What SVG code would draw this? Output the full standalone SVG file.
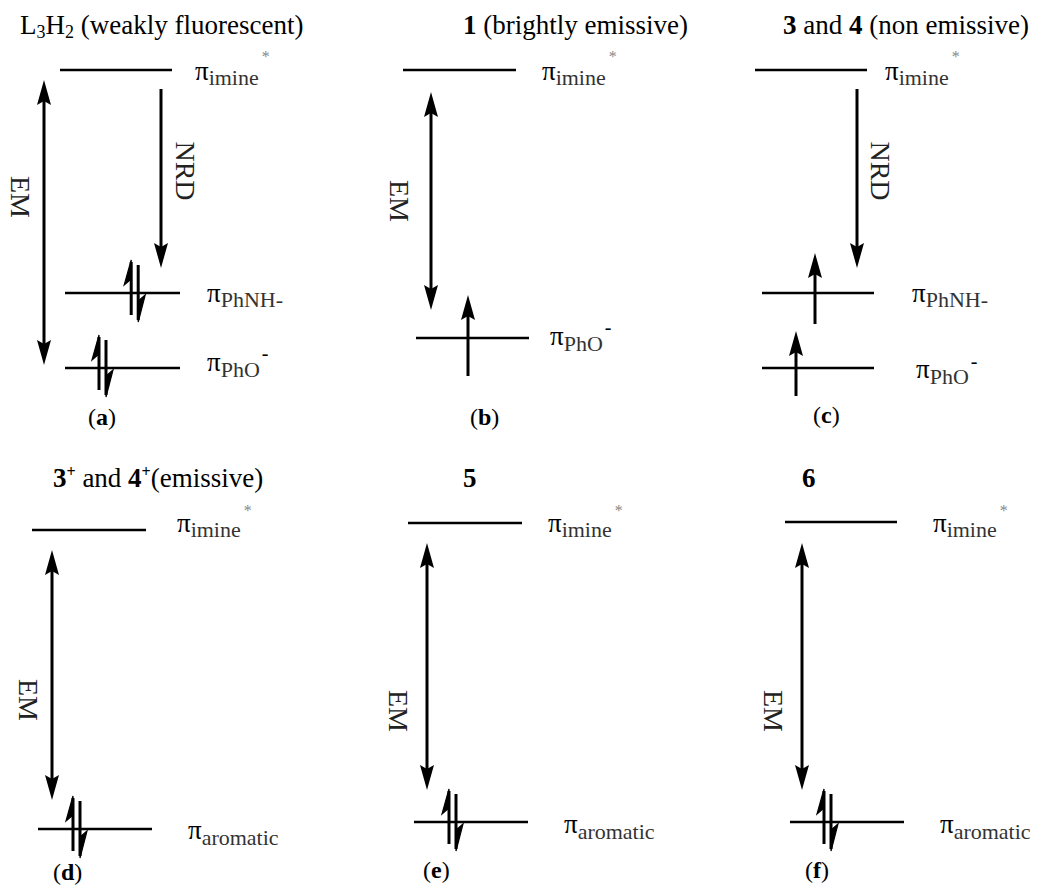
<svg xmlns="http://www.w3.org/2000/svg" xmlns:xlink="http://www.w3.org/1999/xlink" width="1039" height="888" viewBox="0 0 1039 888">
<style>
text{font-family:"Liberation Serif","Times New Roman",serif;fill:#000}
.title{font-size:27px}
.b{font-weight:bold}
.pi{font-size:27px}
.sub{font-size:22px;fill:#333}
.star{font-size:16px;fill:#888}
.sup{font-size:20px;fill:#000}
.rot{font-size:28px;fill:#222}
.pl{font-size:24px}
.lvl{stroke:#000;stroke-width:2.5;fill:none}
.arr{stroke:#000;stroke-width:3;fill:none}
.e{stroke:#000;stroke-width:3;fill:none}
</style>
<defs>
<marker id="ah" viewBox="-26 -8 28 16" refX="-10" refY="0" markerWidth="28" markerHeight="16" markerUnits="userSpaceOnUse" orient="auto-start-reverse">
<path d="M0,0 L-25,-7 L-21,0 L-25,7 Z" fill="#000"/>
</marker>
<g id="pair">
<line class="e" x1="-3.5" y1="22" x2="-3.5" y2="-31"/>
<path d="M-3.5,-33 L-10.5,-8 L-3.5,-14 Z" fill="#000" stroke="#000" stroke-width="1.2"/>
<line class="e" x1="3.5" y1="-28" x2="3.5" y2="27"/>
<path d="M3.5,29 L10.5,2 L3.5,8 Z" fill="#000" stroke="#000" stroke-width="1.2"/>
</g>
</defs>
<rect width="1039" height="888" fill="#fff"/>

<!-- Panel a -->
<g id="panel-a">
<text class="title" x="20" y="34">L<tspan font-size="18" dy="4">3</tspan><tspan dy="-4">H</tspan><tspan font-size="18" dy="4">2</tspan><tspan dy="-4"> (weakly fluorescent)</tspan></text>
<line class="lvl" x1="60" y1="70" x2="172" y2="70"/>
<text class="pi" x="195" y="80">π<tspan class="sub" dy="5">imine</tspan><tspan class="star" dx="3" dy="-23">*</tspan></text>
<line class="lvl" x1="65" y1="293" x2="180" y2="293"/>
<text class="pi" x="207" y="302">π<tspan class="sub" dy="5">PhNH-</tspan></text>
<line class="lvl" x1="65" y1="368" x2="180" y2="368"/>
<text class="pi" x="207" y="371">π<tspan class="sub" dy="6">PhO</tspan><tspan class="sup" dx="2" dy="-17">-</tspan></text>
<use xlink:href="#pair" x="134.7" y="293"/>
<use xlink:href="#pair" x="102.5" y="368"/>
<text class="rot" transform="translate(11,197) rotate(90)" text-anchor="middle">EM</text>
<text class="rot" transform="translate(176,171) rotate(90)" text-anchor="middle">NRD</text>
<text class="pl" x="88" y="425">(<tspan class="b">a</tspan>)</text>
</g>

<!-- Panel b -->
<g id="panel-b">
<text class="title" x="463" y="34"><tspan class="b">1</tspan> (brightly emissive)</text>
<line class="lvl" x1="403" y1="70" x2="516" y2="70"/>
<text class="pi" x="542" y="80">π<tspan class="sub" dy="5">imine</tspan><tspan class="star" dx="3" dy="-23">*</tspan></text>
<line class="lvl" x1="416" y1="338" x2="529" y2="338"/>
<text class="pi" x="550" y="345">π<tspan class="sub" dy="6">PhO</tspan><tspan class="sup" dx="2" dy="-17">-</tspan></text>
<text class="rot" transform="translate(390,201) rotate(90)" text-anchor="middle">EM</text>
<text class="pl" x="470" y="425">(<tspan class="b">b</tspan>)</text>
</g>

<!-- Panel c -->
<g id="panel-c">
<text class="title" x="783" y="34"><tspan class="b">3</tspan> and <tspan class="b">4</tspan> (non emissive)</text>
<line class="lvl" x1="755" y1="70" x2="867" y2="70"/>
<text class="pi" x="885" y="80">π<tspan class="sub" dy="5">imine</tspan><tspan class="star" dx="3" dy="-23">*</tspan></text>
<line class="lvl" x1="762" y1="293" x2="874" y2="293"/>
<text class="pi" x="912" y="302">π<tspan class="sub" dy="5">PhNH-</tspan></text>
<line class="lvl" x1="762" y1="368" x2="874" y2="368"/>
<text class="pi" x="916" y="378">π<tspan class="sub" dy="6">PhO</tspan><tspan class="sup" dx="2" dy="-16">-</tspan></text>
<text class="rot" transform="translate(871,171) rotate(90)" text-anchor="middle">NRD</text>
<text class="pl" x="813" y="423">(<tspan class="b">c</tspan>)</text>
</g>

<!-- Panel d -->
<g id="panel-d">
<text class="title" x="53" y="487"><tspan class="b">3</tspan><tspan class="b" font-size="16" dy="-10">+</tspan><tspan dy="10"> and </tspan><tspan class="b">4</tspan><tspan class="b" font-size="16" dy="-10">+</tspan><tspan dy="10">(emissive)</tspan></text>
<line class="lvl" x1="32" y1="530" x2="146" y2="530"/>
<text class="pi" x="177" y="532">π<tspan class="sub" dy="5">imine</tspan><tspan class="star" dx="3" dy="-21">*</tspan></text>
<line class="lvl" x1="38" y1="829" x2="152" y2="829"/>
<text class="pi" x="188" y="839">π<tspan class="sub" dy="6">aromatic</tspan></text>
<use xlink:href="#pair" x="76.5" y="829"/>
<text class="rot" transform="translate(19,700) rotate(90)" text-anchor="middle">EM</text>
<text class="pl" x="53" y="880">(<tspan class="b">d</tspan>)</text>
</g>

<!-- Panel e -->
<g id="panel-e">
<text class="title b" x="463" y="487">5</text>
<line class="lvl" x1="408" y1="523" x2="522" y2="523"/>
<text class="pi" x="548" y="532">π<tspan class="sub" dy="5">imine</tspan><tspan class="star" dx="3" dy="-21">*</tspan></text>
<line class="lvl" x1="414" y1="822" x2="528" y2="822"/>
<text class="pi" x="564" y="833">π<tspan class="sub" dy="6">aromatic</tspan></text>
<use xlink:href="#pair" x="452.5" y="822"/>
<text class="rot" transform="translate(389,711) rotate(90)" text-anchor="middle">EM</text>
<text class="pl" x="423" y="878">(<tspan class="b">e</tspan>)</text>
</g>

<!-- Panel f -->
<g id="panel-f">
<text class="title b" x="802" y="487">6</text>
<line class="lvl" x1="785" y1="522" x2="897" y2="522"/>
<text class="pi" x="933" y="532">π<tspan class="sub" dy="5">imine</tspan><tspan class="star" dx="3" dy="-21">*</tspan></text>
<line class="lvl" x1="790" y1="822" x2="904" y2="822"/>
<text class="pi" x="940" y="833">π<tspan class="sub" dy="6">aromatic</tspan></text>
<use xlink:href="#pair" x="827.5" y="822"/>
<text class="rot" transform="translate(764,711) rotate(90)" text-anchor="middle">EM</text>
<text class="pl" x="805" y="878">(<tspan class="b">f</tspan>)</text>
</g>

<!-- Connectors -->
<g id="connectors">
<line class="arr" x1="44" y1="90" x2="44" y2="355" marker-start="url(#ah)" marker-end="url(#ah)"/>
<line class="arr" x1="161" y1="89" x2="161" y2="258" marker-end="url(#ah)"/>
<line class="arr" x1="431" y1="102" x2="431" y2="300" marker-start="url(#ah)" marker-end="url(#ah)"/>
<line class="arr" x1="468" y1="376" x2="468" y2="305" marker-end="url(#ah)"/>
<line class="arr" x1="857" y1="89" x2="857" y2="258" marker-end="url(#ah)"/>
<line class="arr" x1="815" y1="324" x2="815" y2="263" marker-end="url(#ah)"/>
<line class="arr" x1="796" y1="396" x2="796" y2="341" marker-end="url(#ah)"/>
<line class="arr" x1="52" y1="560" x2="52" y2="790" marker-start="url(#ah)" marker-end="url(#ah)"/>
<line class="arr" x1="427" y1="553" x2="427" y2="780" marker-start="url(#ah)" marker-end="url(#ah)"/>
<line class="arr" x1="802" y1="553" x2="802" y2="780" marker-start="url(#ah)" marker-end="url(#ah)"/>
</g>
</svg>
